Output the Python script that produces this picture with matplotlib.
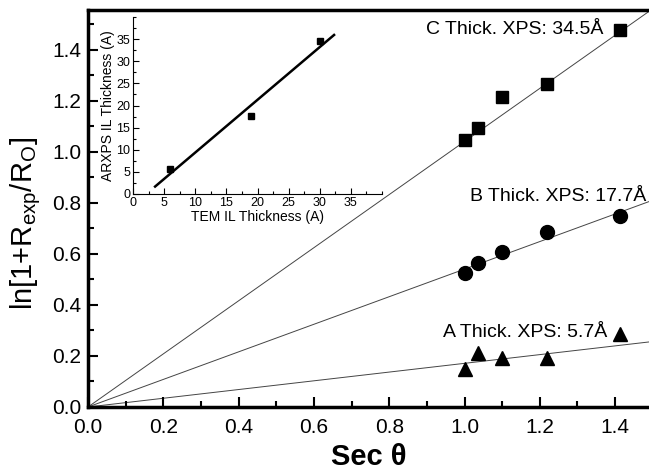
import numpy as np
import matplotlib
matplotlib.use("Agg")
from matplotlib import pyplot as plt
from matplotlib.ticker import MultipleLocator, FormatStrFormatter

plt.rcParams['font.family'] = ['Liberation Sans', 'DejaVu Sans']
plt.rcParams['mathtext.fontset'] = 'custom'
plt.rcParams['mathtext.rm'] = 'Liberation Sans'
plt.rcParams['mathtext.it'] = 'Liberation Sans'
plt.rcParams['mathtext.default'] = 'regular'

# main plot data: sec(theta) vs ln[1+Rexp/Ro]
sec_theta = [1.0, 1.035, 1.1, 1.22, 1.414]
y_C = [1.047, 1.094, 1.216, 1.267, 1.475]
y_B = [0.525, 0.565, 0.608, 0.686, 0.749]
y_A = [0.149, 0.212, 0.192, 0.192, 0.286]
slopes = [1.04, 0.54, 0.171]  # C, B, A fit lines through origin
labels = ["C Thick. XPS: 34.5\u00c5", "B Thick. XPS: 17.7\u00c5", "A Thick. XPS: 5.7\u00c5"]

# inset data
tem = [6.0, 19.0, 30.0]
arxps = [5.7, 17.7, 34.5]

fig = plt.figure(figsize=(6.49, 4.71), dpi=100)
ax = fig.add_axes([88/649, 64/471, 561/649, 397/471])

xmax = 1.49
xx = np.array([0, xmax])
for s in slopes:
  ax.plot(xx, s*xx, color='#444444', lw=0.7, zorder=1)

ax.plot(sec_theta, y_C, 's', color='black', ms=9, zorder=3)
ax.plot(sec_theta, y_B, 'o', color='black', ms=10, zorder=3)
ax.plot(sec_theta, y_A, '^', color='black', ms=10, zorder=3)

ax.text(1.368, 1.478, labels[0], ha='right', va='center', fontsize=14)
ax.text(1.482, 0.823, labels[1], ha='right', va='center', fontsize=14)
ax.text(1.378, 0.292, labels[2], ha='right', va='center', fontsize=14)

ax.set_xlim(0, xmax)
ax.set_ylim(0, 1.555)
ax.xaxis.set_major_locator(MultipleLocator(0.2))
ax.xaxis.set_minor_locator(MultipleLocator(0.1))
ax.yaxis.set_major_locator(MultipleLocator(0.2))
ax.yaxis.set_minor_locator(MultipleLocator(0.1))
ax.xaxis.set_major_formatter(FormatStrFormatter('%.1f'))
ax.yaxis.set_major_formatter(FormatStrFormatter('%.1f'))
ax.tick_params(which='both', direction='in', width=1.5, labelsize=15)
ax.tick_params(which='major', length=7)
ax.tick_params(which='minor', length=4)
ax.tick_params(axis='x', pad=8)
ax.tick_params(axis='y', pad=5)
ax.spines['right'].set_visible(False)
for sp in ['left', 'bottom', 'top']:
  ax.spines[sp].set_linewidth(2.5)

ax.set_xlabel('Sec \u03b8', fontsize=21, fontweight='bold', labelpad=4)
ax.set_ylabel(r'ln[1+R$_{exp}$/R$_{O}$]', fontsize=21)
ax.yaxis.set_label_coords(-0.08, 0.461)

# inset
ins = fig.add_axes([133/649, 277/471, 249/649, 177/471])
ins.plot(tem, arxps, 's', color='black', ms=5)
p = np.polyfit(tem, arxps, 1)
xf = np.array([3.55, 32.3])
ins.plot(xf, np.polyval(p, xf), color='black', lw=1.8)
ins.set_xlim(0, 40)
ins.set_ylim(0, 40)
ins.set_xticks(np.arange(0, 40, 5))
ins.set_yticks(np.arange(0, 40, 5))
ins.xaxis.set_minor_locator(MultipleLocator(2.5))
ins.yaxis.set_minor_locator(MultipleLocator(2.5))
ins.tick_params(which='both', direction='in', labelsize=9, width=0.8, pad=2)
ins.tick_params(which='major', length=4)
ins.tick_params(which='minor', length=2)
ins.spines['right'].set_visible(False)
ins.spines['top'].set_visible(False)
ins.set_xlabel('TEM IL Thickness (A)', fontsize=10, labelpad=1)
ins.set_ylabel('ARXPS IL Thickness (A)', fontsize=10, labelpad=1)

plt.savefig("out.png", dpi=100)
